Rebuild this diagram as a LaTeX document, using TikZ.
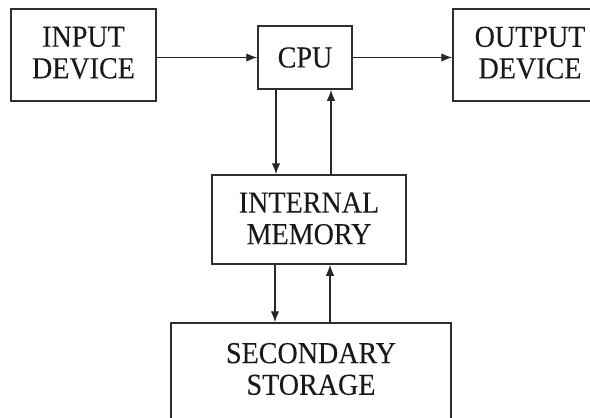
\documentclass[tikz,border=0pt]{standalone}
\usepackage{fontspec}
\setmainfont{Liberation Serif}[FakeStretch=0.92,FakeBold=0.12]
\usetikzlibrary{arrows.meta}
\begin{document}
\begin{tikzpicture}[x=1bp,y=-1bp,
  box/.style={draw=black!82, line width=1.5bp, inner sep=0pt, align=center,
    text=black!90, font=\fontsize{30.5bp}{31.6bp}\selectfont},
  conn/.style={draw=black!85, line width=1.4bp, -{Latex[length=11bp,width=8.5bp]}}]
\useasboundingbox (0,0) rectangle (590,417);
\node[box, minimum width=145bp, minimum height=92bp, text depth=5bp] (input) at (83.5,55) {INPUT\\DEVICE};
\node[box, minimum width=94bp, minimum height=63bp] (cpu) at (305,57.5) {CPU};
\node[box, minimum width=154bp, minimum height=92bp, text depth=5bp] (output) at (530,55) {OUTPUT\\DEVICE};
\node[box, minimum width=194bp, minimum height=89bp, text depth=2.4bp] (mem) at (309,219.5) {INTERNAL\\MEMORY};
\node[box, minimum width=280bp, minimum height=110bp] (sec) at (311,378) {};
\node[box, draw=none] (sectext) at (311,369) {SECONDARY\\STORAGE};
\draw[conn] (input.east |- cpu.west) -- (cpu.west);
\draw[conn] (cpu.east) -- (cpu.east -| output.west);
\draw[conn] ([xshift=-29bp]cpu.south) -- ([xshift=-29bp]cpu.south |- mem.north);
\draw[conn] ([xshift=26bp]cpu.south |- mem.north) -- ([xshift=26bp]cpu.south);
\draw[conn] ([xshift=-34bp]mem.south) -- ([xshift=-34bp]mem.south |- sec.north);
\draw[conn] ([xshift=21bp]mem.south |- sec.north) -- ([xshift=21bp]mem.south);
\end{tikzpicture}
\end{document}
